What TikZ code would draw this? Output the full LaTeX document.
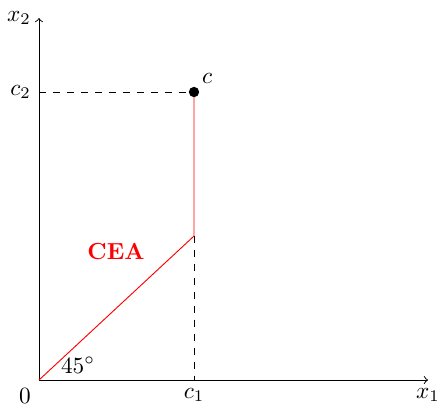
\documentclass[tikz,border=0pt]{standalone}
\usepackage{amsmath}
\usetikzlibrary{arrows, positioning}

\begin{document}
\begin{tikzpicture}[x=0.43pt, y=-0.43pt]
  \useasboundingbox (0,0) rectangle (437,405);
  \coordinate (O)  at (39,380);
  \coordinate (X)  at (428,380);
  \coordinate (Y)  at (39,18);
  \coordinate (C1) at (194,380);
  \coordinate (C2) at (39,92);
  \coordinate (K)  at (194,236);
  \coordinate (C)  at (194,92);
  \draw[->] (O) -- (X) node[below] (xone) {$x_1$};
  \draw[->] (O) -- (Y) node[left]  (xtwo) {$x_2$};
  \draw[dashed] (C2) -- (C);
  \draw[dashed] (K) -- (C1);
  \draw[red] (O) -- (K) -- (C);
  \filldraw (C) circle (2pt) node[above right] (clab) {$c$};
  \node[below left] (zero) at (O)  {$0$};
  \node[below]      (cone) at (C1) {$c_1$};
  \node[left]       (ctwo) at (C2) {$c_2$};
  \node (angle) at (78,365) {$45^\circ$};
  \node[red, font=\bfseries] (cea) at (116,251) {CEA};
\end{tikzpicture}
\end{document}
